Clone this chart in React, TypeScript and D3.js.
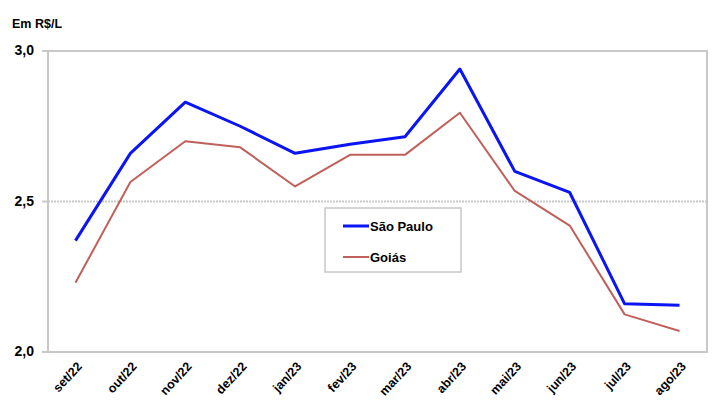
import React, { useEffect, useRef } from "react";
import * as d3 from "d3";

const months = ["set/22", "out/22", "nov/22", "dez/22", "jan/23", "fev/23", "mar/23", "abr/23", "mai/23", "jun/23", "jul/23", "ago/23"];
const saoPaulo = [2.37, 2.66, 2.83, 2.75, 2.66, 2.69, 2.715, 2.94, 2.6, 2.53, 2.16, 2.155];
const goias = [2.23, 2.565, 2.7, 2.68, 2.55, 2.655, 2.655, 2.795, 2.535, 2.42, 2.125, 2.07];
const yTicks = [2.0, 2.5, 3.0];

const series = [
  { name: "São Paulo", values: saoPaulo, color: "#0a14f5", width: 3 },
  { name: "Goiás", values: goias, color: "#c0605a", width: 2 },
];

const W = 713;
const H = 412;
const margin = { top: 51, right: 6, bottom: 60, left: 48 };

const App = () => {
  const ref = useRef<SVGSVGElement>(null);

  useEffect(() => {
    const svg = d3.select(ref.current);
    svg.selectAll("*").remove();
    const width = W - margin.left - margin.right;
    const height = H - margin.top - margin.bottom;
    const font = "Liberation Sans, Arial, sans-serif";

    const x = d3.scalePoint<string>().domain(months).range([0, width]).padding(0.5);
    const y = d3.scaleLinear().domain([2.0, 3.0]).range([height, 0]);

    svg.append("rect").attr("width", W).attr("height", H).attr("fill", "#fff");

    svg
      .append("text")
      .attr("x", 12)
      .attr("y", 28)
      .attr("font-family", font)
      .attr("font-weight", "bold")
      .attr("font-size", 12.5)
      .text("Em R$/L");

    const g = svg.append("g").attr("transform", `translate(${margin.left},${margin.top})`);

    // mid gridline
    g.append("line")
      .attr("x1", 0)
      .attr("x2", width)
      .attr("y1", y(2.5))
      .attr("y2", y(2.5))
      .attr("stroke", "#c8c8c8")
      .attr("stroke-width", 2)
      .attr("stroke-dasharray", "2,1");

    // plot frame
    g.append("rect")
      .attr("x", 0)
      .attr("y", 0)
      .attr("width", width)
      .attr("height", height)
      .attr("fill", "none")
      .attr("stroke", "#c8c8c8")
      .attr("stroke-width", 2);

    // y ticks and labels
    yTicks.forEach((t) => {
      g.append("line")
        .attr("x1", -6)
        .attr("x2", 0)
        .attr("y1", y(t))
        .attr("y2", y(t))
        .attr("stroke", "#c8c8c8")
        .attr("stroke-width", 2);
      g.append("text")
        .attr("x", -14)
        .attr("y", y(t))
        .attr("dy", "0.3em")
        .attr("text-anchor", "end")
        .attr("font-family", font)
        .attr("font-weight", "bold")
        .attr("font-size", 14)
        .text(d3.format(".1f")(t).replace(".", ","));
    });

    // x labels
    months.forEach((m) => {
      g.append("text")
        .attr("transform", `translate(${(x(m) as number) + 4},${height + 12}) rotate(-47)`)
        .attr("text-anchor", "end")
        .attr("dy", "0.35em")
        .attr("font-family", font)
        .attr("font-weight", "bold")
        .attr("font-size", 12.5)
        .text(m);
    });

    const line = d3
      .line<number>()
      .x((d, i) => x(months[i]) as number)
      .y((d) => y(d));

    series.forEach((s) => {
      g.append("path")
        .datum(s.values)
        .attr("fill", "none")
        .attr("stroke", s.color)
        .attr("stroke-width", s.width)
        .attr("stroke-linejoin", "round")
        .attr("d", line);
    });

    // legend
    const lg = svg.append("g").attr("transform", "translate(325,208)");
    lg.append("rect")
      .attr("width", 136)
      .attr("height", 64)
      .attr("fill", "#fff")
      .attr("stroke", "#c8c8c8")
      .attr("stroke-width", 1.5);
    series.forEach((s, i) => {
      const yy = 18 + i * 31;
      lg.append("line")
        .attr("x1", 18)
        .attr("x2", 44)
        .attr("y1", yy)
        .attr("y2", yy)
        .attr("stroke", s.color)
        .attr("stroke-width", s.width);
      lg.append("text")
        .attr("x", 45)
        .attr("y", yy)
        .attr("dy", "0.35em")
        .attr("font-family", font)
        .attr("font-weight", "bold")
        .attr("font-size", 13)
        .text(s.name);
    });
  }, []);

  return (
    <div>
      <svg ref={ref} width={W} height={H} style={{ position: "absolute", left: 0, top: 0 }}></svg>
    </div>
  );
};

export default App;
